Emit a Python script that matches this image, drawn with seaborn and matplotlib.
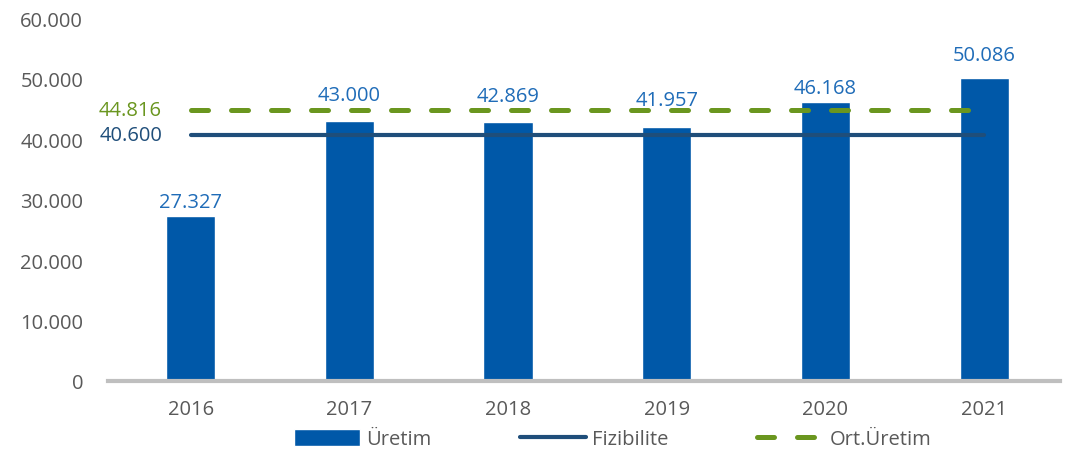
import matplotlib
matplotlib.use("Agg")
import matplotlib.pyplot as plt
import seaborn as sns
import pandas as pd
from matplotlib.patches import Patch
from matplotlib.lines import Line2D
from matplotlib.ticker import FuncFormatter

years = ["2016", "2017", "2018", "2019", "2020", "2021"]
uretim = [27327, 43000, 42869, 41957, 46168, 50086]
fizibilite = [40600] * 6
ort_uretim = [44816] * 6

bar_color = "#0058a8"
fiz_color = "#1f4e7a"
ort_color = "#6a961f"
label_color = "#1f6cb8"
tick_color = "#595959"

# gap between bar top and its value label (points), labels sit above the lines
label_gap = [6, 15, 15, 16, 6, 13]

sns.set_style("white")
plt.rcParams["font.family"] = ["Open Sans", "DejaVu Sans"]

df = pd.DataFrame({"Yil": years, "Uretim": uretim})

fig = plt.figure(figsize=(10.71, 4.56), dpi=100)
ax = fig.add_axes([0.101, 0.1623, 0.889, 0.7957])

sns.barplot(data=df, x="Yil", y="Uretim", color=bar_color, width=0.31,
            saturation=1, ax=ax)

x = list(range(len(years)))
dash = (3.4, 4.6)
ax.plot(x, fizibilite, color=fiz_color, lw=3.0, solid_capstyle="round")
ax.plot(x, ort_uretim, color=ort_color, lw=3.6, dashes=dash,
        dash_capstyle="round")

fmt = lambda v: f"{v:,.0f}".replace(",", ".")
for i, v in enumerate(uretim):
    ax.annotate(fmt(v), (i, v), xytext=(0, label_gap[i]), textcoords="offset points",
                ha="center", va="baseline", fontsize=14.5, color=label_color)
ax.text(-0.18, ort_uretim[0], fmt(ort_uretim[0]), ha="right", va="center",
        fontsize=14.5, color=ort_color)
ax.text(-0.18, fizibilite[0], fmt(fizibilite[0]), ha="right", va="center",
        fontsize=14.5, color=fiz_color)

ax.set_ylim(0, 60000)
ax.set_xlim(-0.52, 5.48)
ax.set_yticks(range(0, 60001, 10000))
ax.yaxis.set_major_formatter(FuncFormatter(lambda v, p: fmt(v)))
ax.tick_params(axis="both", length=0, labelsize=14.5, colors=tick_color)
ax.tick_params(axis="y", pad=18)
ax.tick_params(axis="x", pad=13)
ax.set_xlabel("")
ax.set_ylabel("")
for s in ["top", "right", "left"]:
    ax.spines[s].set_visible(False)
ax.spines["bottom"].set_color("#bfbfbf")
ax.spines["bottom"].set_linewidth(3)

handles = [
    Patch(facecolor=bar_color, label="Üretim"),
    Line2D([0], [0], color=fiz_color, lw=3.0, solid_capstyle="round", label="Fizibilite"),
    Line2D([0], [0], color=ort_color, lw=3.6, dashes=dash,
           dash_capstyle="round", label="Ort.Üretim"),
]
leg = fig.legend(handles=handles, loc="center", bbox_to_anchor=(0.572, 0.035),
                 ncol=3, frameon=False, fontsize=14.5, handlelength=3.3,
                 handleheight=0.9, handletextpad=0.3, columnspacing=4.4)
for t in leg.get_texts():
    t.set_color(tick_color)

fig.savefig("out.png", dpi=100)
